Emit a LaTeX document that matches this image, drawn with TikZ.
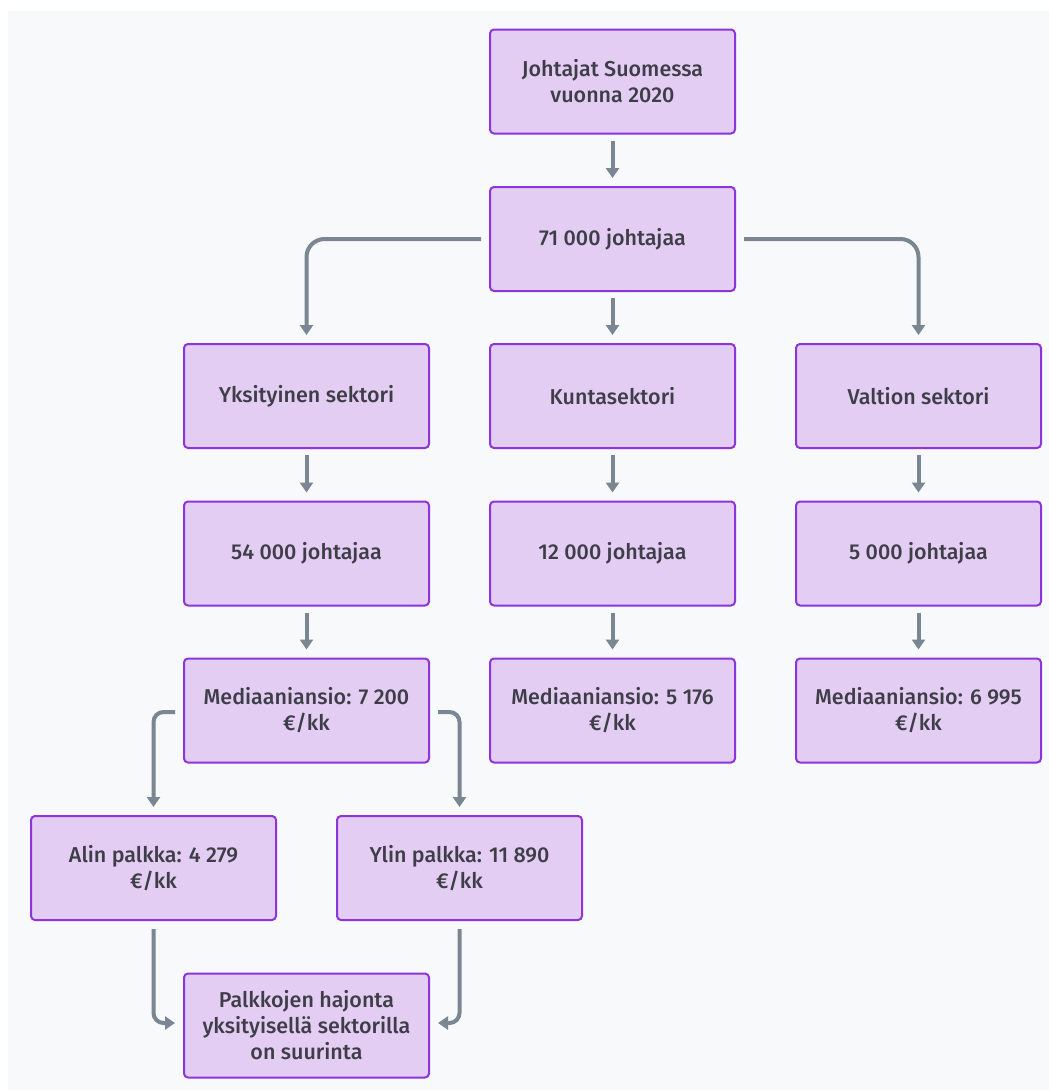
\documentclass[tikz,border=0pt]{standalone}
\usepackage{fontspec}
\setmainfont{Fira Sans}[UprightFont={* Medium}]
\usetikzlibrary{arrows.meta,positioning}

\definecolor{pagebg}{HTML}{F8F9FB}
\definecolor{boxfill}{HTML}{E4CDF3}
\definecolor{boxline}{HTML}{8E34DB}
\definecolor{edgecol}{HTML}{7A8692}
\definecolor{textcol}{HTML}{3E3E48}

\tikzset{
  flowbox/.style={draw=boxline, line width=2pt, fill=boxfill, rounded corners=4pt,
    minimum width=245pt, minimum height=104pt, inner sep=0pt,
    align=center, text=textcol, font=\fontsize{21.5}{26}\selectfont},
  flowarrow/.style={draw=edgecol, line width=4pt, rounded corners=18pt,
    -{Triangle[width=13pt,length=10pt]}},
}

\begin{document}
\begin{tikzpicture}[x=1pt,y=-1pt]
  % canvas
  \useasboundingbox (0,0) rectangle (1049,1090);
  \fill[pagebg] (8,11) rectangle (1049,1090);

  % boxes
  \node[flowbox] (top)   at (612.5,81.5)  {Johtajat Suomessa\\vuonna 2020};
  \node[flowbox] (all)   at (612.5,239)   {71 000 johtajaa};

  \node[flowbox] (priv)  at (306.5,396)   {Yksityinen sektori};
  \node[flowbox] (mun)   at (612.5,396)   {Kuntasektori};
  \node[flowbox] (state) at (918.5,396)   {Valtion sektori};

  \node[flowbox] (privn)  at (306.5,553.5) {54 000 johtajaa};
  \node[flowbox] (munn)   at (612.5,553.5) {12 000 johtajaa};
  \node[flowbox] (staten) at (918.5,553.5) {5 000 johtajaa};

  \node[flowbox] (privm)  at (306.5,710.5) {Mediaaniansio: 7 200\\€/kk};
  \node[flowbox] (munm)   at (612.5,710.5) {Mediaaniansio: 5 176\\€/kk};
  \node[flowbox] (statem) at (918.5,710.5) {Mediaaniansio: 6 995\\€/kk};

  \node[flowbox] (low)   at (153.5,868)   {Alin palkka: 4 279\\€/kk};
  \node[flowbox] (high)  at (459.5,868)   {Ylin palkka: 11 890\\€/kk};

  \node[flowbox] (spread) at (306.5,1025.5) {Palkkojen hajonta\\yksityisellä sektorilla\\on suurinta};

  % connectors
  \draw[flowarrow] ([yshift=-6pt]top.south) -- ([yshift=8pt]all.north);
  \draw[flowarrow] ([xshift=-8pt]all.west) -| ([yshift=8pt]priv.north);
  \draw[flowarrow] ([yshift=-6pt]all.south) -- ([yshift=8pt]mun.north);
  \draw[flowarrow] ([xshift=8pt]all.east) -| ([yshift=8pt]state.north);

  \draw[flowarrow] ([yshift=-6pt]priv.south)  -- ([yshift=8pt]privn.north);
  \draw[flowarrow] ([yshift=-6pt]mun.south)   -- ([yshift=8pt]munn.north);
  \draw[flowarrow] ([yshift=-6pt]state.south) -- ([yshift=8pt]staten.north);

  \draw[flowarrow] ([yshift=-6pt]privn.south)  -- ([yshift=8pt]privm.north);
  \draw[flowarrow] ([yshift=-6pt]munn.south)   -- ([yshift=8pt]munm.north);
  \draw[flowarrow] ([yshift=-6pt]staten.south) -- ([yshift=8pt]statem.north);

  \draw[flowarrow, rounded corners=10pt] ([xshift=-8pt,yshift=-1.5pt]privm.west) -| ([yshift=8pt]low.north);
  \draw[flowarrow, rounded corners=10pt] ([xshift=8pt,yshift=-1.5pt]privm.east) -| ([yshift=8pt]high.north);

  \draw[flowarrow, rounded corners=10pt] ([yshift=-8pt]low.south) |- ([xshift=-8pt,yshift=2.5pt]spread.west);
  \draw[flowarrow, rounded corners=10pt] ([yshift=-8pt]high.south) |- ([xshift=8pt,yshift=2.5pt]spread.east);
\end{tikzpicture}
\end{document}
